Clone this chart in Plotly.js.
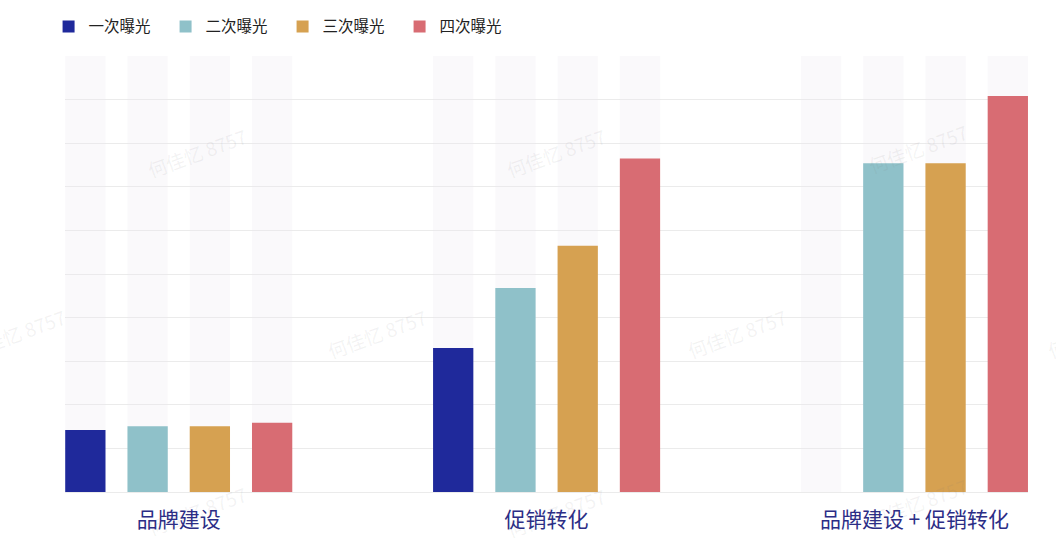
<!DOCTYPE html>
<html>
<head>
<meta charset="utf-8">
<script src="https://cdn.plot.ly/plotly-3.0.1.min.js"></script>
<style>html,body{margin:0;padding:0;background:#fff;}#chart{width:1056px;height:548px;}</style>
</head>
<body>
<div id="chart"></div>
<script>
const categories = ['品牌建设', '促销转化', '品牌建设 + 促销转化'];
const seriesNames = ['一次曝光', '二次曝光', '三次曝光', '四次曝光'];
const exposure1 = [1.42, 3.30, 0];
const exposure2 = [1.51, 4.68, 7.54];
const exposure3 = [1.51, 5.65, 7.54];
const exposure4 = [1.59, 7.65, 9.08];
const backgroundValues = [10, 10, 10];
const watermarkText = '何佳忆 8757';

const seriesValues = [exposure1, exposure2, exposure3, exposure4];
const colors = ['#1f299b', '#8fc1c9', '#d6a151', '#d86c73'];
const font = '"Noto Sans CJK SC", "Noto Sans", sans-serif';

const traces = [];
seriesValues.forEach((vals, i) => {
  traces.push({
    type: 'bar', x: categories, y: backgroundValues,
    offsetgroup: String(i), marker: {color: 'rgba(235,228,238,0.24)'},
    showlegend: false, hoverinfo: 'skip'
  });
});
seriesValues.forEach((vals, i) => {
  traces.push({
    type: 'bar', name: seriesNames[i], x: categories, y: vals,
    offsetgroup: String(i), marker: {color: colors[i]}
  });
});

const wmPos = [[197,152],[556,152],[918,148],[15,333],[377,333],[737,333],[1097,333],[197,510],[556,512],[918,502]];
const annotations = wmPos.map(p => ({
  xref: 'paper', yref: 'paper', xanchor: 'center', yanchor: 'middle',
  x: (p[0]-65)/963.5, y: (492-p[1])/436,
  text: watermarkText, showarrow: false, textangle: -20,
  font: {family: font, size: 19, color: 'rgba(120,120,120,0.09)'}
}));

const layout = {
  width: 1056, height: 548,
  margin: {l: 65, r: 27.5, t: 56, b: 56},
  paper_bgcolor: '#ffffff', plot_bgcolor: '#ffffff',
  barmode: 'group', bargap: 0.323, bargroupgap: 0.353,
  font: {family: font},
  xaxis: {
    type: 'category', range: [-0.3092, 2.3087],
    showgrid: false, showline: false, ticks: '',
    ticklabelstandoff: 13,
    tickfont: {family: font, size: 21, color: '#2b2d86'}
  },
  yaxis: {
    range: [0, 10], dtick: 1, showticklabels: false,
    gridcolor: '#ebebeb', gridwidth: 1, zeroline: true, zerolinecolor: '#ebebeb',
    showline: false, ticks: ''
  },
  legend: {
    orientation: 'h', xref: 'container', yref: 'container',
    x: 0.046, y: 0.982, xanchor: 'left', yanchor: 'top',
    entrywidth: 72, font: {family: font, size: 15.5, color: '#222'},
    traceorder: 'normal'
  },
  annotations: annotations,
  showlegend: true
};

Plotly.newPlot('chart', traces, layout, {displayModeBar: false, staticPlot: true});
</script>
</body>
</html>
